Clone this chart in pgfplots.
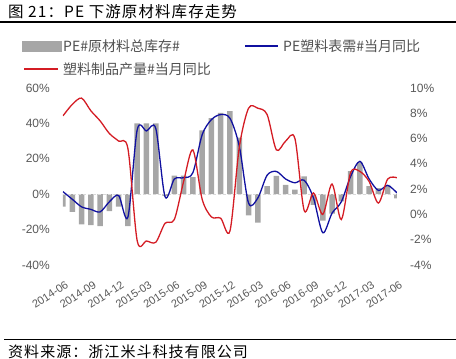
\documentclass[border=0pt]{standalone}
\usepackage{fontspec}
\setmainfont{Liberation Sans}
\newfontfamily\cjk{Noto Sans CJK SC}
\newfontfamily\cjkls[LetterSpace=7]{Noto Sans CJK SC}
\usepackage{pgfplots}
\pgfplotsset{compat=1.18}
\usepackage{pgfplotstable}
\definecolor{barc}{RGB}{166,166,166}
\definecolor{bluec}{RGB}{16,16,160}
\definecolor{redc}{RGB}{212,28,36}
\definecolor{txt}{RGB}{89,89,89}
\definecolor{legtxt}{RGB}{80,80,80}

\pgfplotstableread{
i bar blue red
0 -7 1.8 7.8
1 -10 1.2 8.7
2 -17 0.6 9.2
3 -17.5 0.4 8.2
4 -18 0.2 7.4
5 -9.5 1.0 6.4
6 -7 1.5 5.8
7 -18 -0.2 5.2
8 40 6.7 -2.1
9 40 6.6 -2.1
10 40 6.8 -2.2
11 -1 1.4 -0.7
12 10.5 2.8 -0.4
13 10.5 2.9 2.6
14 9.6 3.3 5.1
15 36 6.3 1.2
16 43 7.5 -0.2
17 46 7.9 -0.3
18 47 7.6 -1.3
19 32 5.4 5.3
20 -12 0.9 8.4
21 -16 1.3 8.4
22 4.5 3.1 7.9
23 10.3 3.4 5.1
24 5.3 2.8 5.8
25 2.6 2.5 6.0
26 10 2.7 0.3
27 -6 1.3 1.7
28 -15 -1.45 0.0
29 -11 0.1 2.4
30 -4 1.0 -0.4
31 13 3.0 3.3
32 18 4.2 3.4
33 4.5 2.8 2.6
34 3.5 1.9 0.9
35 5.3 2.3 2.8
36 -2.3 1.7 2.9
}\data

\begin{document}
\begin{tikzpicture}[x=1pt,y=1pt]
\useasboundingbox (0,0) rectangle (456,359);
\node[anchor=west, inner sep=0pt] at (8,347) {\cjkls\fontsize{15.5}{17}\selectfont 图 21：PE 下游原材料库存走势};
\draw[line width=1.2pt] (0,337) -- (456,337);
% legend
\fill[barc] (22,307) rectangle (62,318);
\node[anchor=west, inner sep=0pt, text=legtxt] at (63,312.5) {\cjk\fontsize{14}{16}\selectfont PE\#原材料总库存\#};
\draw[bluec, line width=1.5pt] (245,313) -- (278,313);
\node[anchor=west, inner sep=0pt, text=legtxt] at (283,312.5) {\cjk\fontsize{14}{16}\selectfont PE塑料表需\#当月同比};
\draw[redc, line width=1.5pt] (24,290) -- (58,290);
\node[anchor=west, inner sep=0pt, text=legtxt] at (63,290) {\cjk\fontsize{14}{16}\selectfont 塑料制品产量\#当月同比};
% source
\draw[line width=1pt] (4,19.5) -- (456,19.5);
\node[anchor=west, inner sep=0pt] at (8,7.5) {\cjkls\fontsize{15}{17}\selectfont 资料来源：浙江米斗科技有限公司};

\begin{axis}[
  at={(63pt,94pt)}, anchor=south west, scale only axis,
  width=334pt, height=177pt,
  xmin=0, xmax=36, ymin=-40, ymax=60,
  axis y line*=left, axis x line*=bottom,
  axis line style={draw=none},
  ytick={-40,-20,...,60},
  yticklabel={\pgfmathprintnumber{\tick}\%},
  xtick={0,3,...,36},
  xticklabels={2014-06,2014-09,2014-12,2015-03,2015-06,2015-09,2015-12,2016-03,2016-06,2016-09,2016-12,2017-03,2017-06},
  major tick length=0pt,
  tick label style={font=\fontsize{12}{14}\selectfont, text=txt},
  xticklabel style={font=\fontsize{11}{13}\selectfont},
  /pgf/number format/assume math mode=true,
  yticklabel style={inner sep=0pt, xshift=-13pt},
  xticklabel style={inner sep=0pt, xshift=2pt, yshift=-15pt, rotate=33, anchor=north east},
]
\addplot[ybar, bar width=5.5pt, fill=barc, draw=none] table[x=i,y=bar]{\data};
\addplot[gray!30, line width=1pt, dash pattern=on 3pt off 2pt] coordinates {(0,0) (36,0)};
\end{axis}

\begin{axis}[
  at={(63pt,94pt)}, anchor=south west, scale only axis,
  width=334pt, height=177pt,
  xmin=0, xmax=36, ymin=-4, ymax=10,
  axis y line*=right, axis x line=none,
  axis line style={draw=none},
  ytick={-4,-2,...,10},
  yticklabel={\pgfmathprintnumber{\tick}\%},
  major tick length=0pt,
  tick label style={font=\fontsize{12}{14}\selectfont, text=txt},
  /pgf/number format/assume math mode=true,
  yticklabel style={inner sep=0pt, xshift=13pt},
]
\addplot[bluec, line width=1.3pt, smooth, tension=0.5] table[x=i,y=blue]{\data};
\addplot[redc, line width=1.3pt, smooth, tension=0.5] table[x=i,y=red]{\data};
\end{axis}
\end{tikzpicture}
\end{document}
